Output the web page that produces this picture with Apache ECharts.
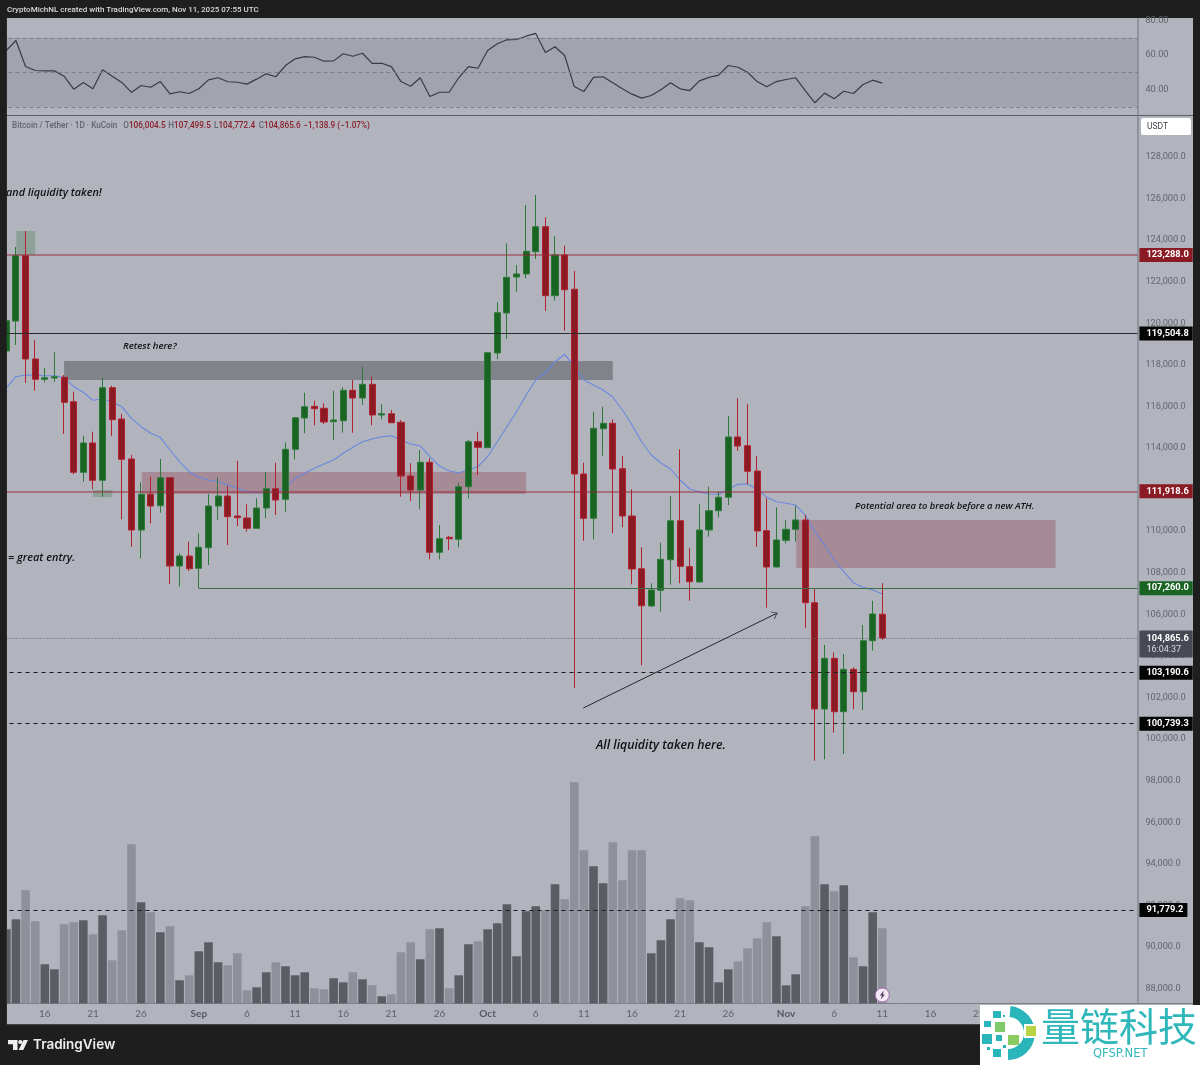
<!DOCTYPE html>
<html><head><meta charset="utf-8">
<style>html,body{margin:0;padding:0;background:#1e1e1e}#main{width:1200px;height:1065px}</style>
<script src="https://cdn.jsdelivr.net/npm/echarts@6/dist/echarts.min.js"></script>
</head><body><div id="main"></div>
<script>
const opens=[118668,120110,123252,118283,117306,117369,117403,116229,112832,114242,112448,116902,115396,113472,110057,111774,111226,112573,108325,108806,108214,109205,111211,111692,110730,110634,110139,111115,112044,111533,113939,115445,116007,115911,115267,115315,116777,116407,117066,115589,115651,115238,112655,111981,113313,108984,109705,109609,112140,114304,114016,118571,120496,122227,122372,123444,124647,121328,123286,121636,112751,110620,114930,115189,113006,110730,108195,106401,107156,108628,110504,108292,107555,110057,110985,111630,114531,114112,112895,110023,108277,109561,110090,110538,106559,101446,103885,101316,103355,102278,104732,106004.5];
const closes=[120125,123252,118283,117306,117383,117431,116200,112832,114242,112448,116902,115363,113458,110057,111774,111211,112573,108325,108806,108195,109225,111211,111692,110697,110649,110139,111115,112044,111500,113939,115454,115988,115892,115252,115348,116777,116407,117066,115589,115651,115218,112655,111981,113313,108984,109638,109638,112140,114304,114035,118586,120510,122213,122372,123464,124647,121328,123286,121616,112751,110620,114949,115189,112991,110730,108181,106415,107171,108647,110504,108310,107570,110057,110985,111630,114531,114098,112881,110009,108277,109576,110090,110538,106559,101446,103885,101316,103355,102278,104732,106016,104865.6];
const highs=[120160,123671,124440,119197,117864,118605,117513,116710,114593,114785,117383,116998,115637,113665,112351,112621,113472,112606,108936,109494,109898,111789,112592,112188,113391,111293,111582,112861,113294,114276,115493,116662,116277,116152,116758,116921,117273,117912,117431,116118,115829,115348,113265,113905,113506,110297,109768,112332,114386,114785,118620,121010,123849,122805,125691,126172,125099,124200,123733,122516,113294,115748,115988,115382,113617,112015,109225,107493,109446,111692,113939,109176,111293,112140,111899,115541,116392,116118,113617,111582,111149,110538,111226,110778,107252,104525,104173,104092,103452,105487,106656,107499.5];
const lows=[118620,118956,117128,116758,117162,117176,114675,112736,112380,112015,111659,114579,110572,109253,108695,110379,110889,107459,107329,108085,107252,108373,110538,109335,110249,109975,110125,110620,110778,110937,113458,114708,115093,115156,114386,114737,114737,116070,115093,115382,115210,111659,111452,111053,108647,108647,109095,109225,111582,112703,114001,118268,119245,121520,122165,123093,120592,121087,119644,102456,109542,109609,113631,109898,110186,107444,103548,106367,106127,107425,107493,106656,107540,109735,110668,111259,113872,112270,109253,106319,108260,109417,109494,105328,98959,99026,100306,99281,101432,101398,104251,104772.4];
const ema=[116888,117431,117513,117499,117479,117479,117403,116950,116681,116296,116359,116229,115988,115430,115026,114708,114516,113905,113342,112861,112592,112462,112380,112222,112063,111899,111851,111899,111981,112063,112544,112784,113025,113232,113424,113746,114035,114304,114434,114545,114593,114386,114194,114098,113583,113136,112895,112813,112943,113102,113583,114304,115026,115748,116551,117273,117624,118153,118509,117912,117273,117032,116792,116455,115829,115108,114304,113665,113280,112991,112462,112029,111885,111789,111774,112015,112255,112270,112029,111630,111418,111341,111259,110778,109975,109335,108614,108051,107522,107300,107171,106978];
const rsi=[62.6,68.4,53.3,51.0,50.8,50.8,47.7,40.2,44.1,40.4,51.4,47.7,44.1,38.3,42.3,41.3,44.6,37.5,38.7,37.7,40.4,45.6,46.8,44.5,44.2,43.1,46.0,49.1,47.4,53.9,57.8,59.1,58.7,56.4,56.6,60.7,59.3,61.0,55.1,55.2,53.3,44.6,41.9,46.8,35.9,38.4,38.4,46.8,53.3,52.3,62.6,66.5,68.8,69.0,70.9,72.5,61.4,64.8,59.7,41.7,38.8,47.0,47.4,43.9,40.4,37.3,35.0,36.5,39.8,43.9,40.4,39.4,45.0,47.0,48.3,53.9,52.9,50.0,44.6,41.6,44.6,45.8,46.8,39.4,32.3,37.9,34.6,39.0,37.7,42.9,45.4,43.7];
const volumes=[74,84,113,82,39,34,79,81,83,69,88,43,73,159,101,91,71,77,23,28,52,61,41,38,50,13,16,31,41,37,28,31,15,14,25,21,31,24,18,7,9,51,61,44,74,75,15,28,59,62,74,80,99,47,92,97,93,119,104,221,153,137,120,161,123,153,153,50,63,84,105,103,61,56,21,34,42,55,65,81,67,18,29,97,167,119,112,118,46,37,91,75];

const monthNames=['Jan','Feb','Mar','Apr','May','Jun','Jul','Aug','Sep','Oct','Nov','Dec'];
const categories=[];
for(let i=0;i<118;i++){const d=new Date(Date.UTC(2025,7,12+i));categories.push(d.toISOString().slice(0,10));}
const tickDays=[6,11,16,21,26];
function tickLabel(cat){const d=new Date(cat+'T00:00:00Z');const n=d.getUTCDate();
  if(n===1)return monthNames[d.getUTCMonth()];return tickDays.includes(n)?String(n):'';}

const BG='#b1b4bd',RED='#8a1a24',GREEN='#1a6423',BLACK='#050505',REDLINE='#b2222f',GREENLINE='#2f7a3b';
const levelLines=[
 {v:123288.0,color:'rgba(150,35,50,.62)',type:'solid',tag:RED,w:1.6},
 {v:119504.8,color:'#2a2b30',type:'solid',tag:BLACK,w:1},
 {v:111918.6,color:'rgba(150,35,50,.62)',type:'solid',tag:RED,w:1.6},
 {v:103190.6,color:'#1c1d21',type:[4,4],tag:BLACK,w:1},
 {v:100739.3,color:'#1c1d21',type:[4,4],tag:BLACK,w:1},
 {v:91779.2,color:'#1c1d21',type:[4,4],tag:BLACK,w:1}
];
const greenLevel=107260.0, greenStart=20, lastPrice=104865.6, countdown='16:04:37';
const zones=[
 {x0:6,x1:63,top:118187,bottom:117273,color:'rgba(100,102,108,.62)'},
 {x0:14.08,x1:54,top:112847,bottom:111789,color:'rgba(150,80,95,.42)'},
 {x0:82.07,x1:109,top:110538,bottom:108229,color:'rgba(150,80,95,.42)'},
 {x0:1.04,x1:3,top:124440,bottom:123286,color:'rgba(90,135,100,.42)'},
 {x0:9,x1:11,top:111981,bottom:111640,color:'rgba(90,135,100,.42)'}
];
const arrowLine={x0:59.94,p0:101494,x1:80.1,p1:106064};
const edge=117.5;
const ARROW='path://M-8 -8 L-7.9 -8 Z M8 8 L7.9 8 Z M-5 6 L0 0 L5 6 L4.4 6.5 L0 1.3 L-4.4 6.5 Z';

const fmt=v=>v.toLocaleString('en-US',{minimumFractionDigits:1,maximumFractionDigits:1});
const tagLabel=(v,bg)=>({show:true,position:'end',distance:2,formatter:fmt(v),backgroundColor:bg,color:'#fff',
  fontFamily:'Roboto',fontSize:9.3,fontWeight:'bold',padding:[2,4,1,7],lineHeight:11});

const markLineData=levelLines.map(l=>[
  {coord:[-0.5,l.v],lineStyle:{color:l.color,type:l.type,width:l.w}},
  {coord:[edge,l.v],label:tagLabel(l.v,l.tag)}]);
markLineData.push([{coord:[-0.5,lastPrice],lineStyle:{color:'#5c5e68',type:[1,2],width:1}},
  {coord:[edge,lastPrice],label:{show:true,position:'end',distance:2,offset:[0,6],formatter:'{a|'+fmt(lastPrice)+'}\n{b|'+countdown+'}',backgroundColor:'#474954',padding:[2,4,2,7],borderRadius:1,
   rich:{a:{color:'#fff',fontFamily:'Roboto',fontSize:9.3,fontWeight:'bold',lineHeight:12},b:{color:'#d8d9de',fontFamily:'Roboto',fontSize:9,lineHeight:11}}}}]);
markLineData.push([{coord:[greenStart,greenLevel],lineStyle:{color:'#3e6e47',type:'solid',width:1}},
  {coord:[edge,greenLevel],label:tagLabel(greenLevel,GREEN)}]);
markLineData.push([{coord:[arrowLine.x0,arrowLine.p0],symbol:'none',lineStyle:{color:'#26272c',type:'solid',width:1},label:{show:false}},
  {coord:[arrowLine.x1,arrowLine.p1],symbol:ARROW,symbolSize:14,label:{show:false}}]);

const vm={verticalAlign:'middle'};
const note=(x,y,text,size)=>({type:'text',z:20,style:{x,y,text,font:'italic 600 '+size+'px "Open Sans"',fill:'#101114',...vm}});
const legendItem=(x,l,v)=>({type:'text',z:101,style:{x:x,y:125.5,text:(l?'{l|'+l+'}':'')+'{r|'+v+'}',...vm,
  rich:{l:{fill:'#62656f',font:'500 8.2px Roboto'},r:{fill:'#8a1f2b',font:'500 8.2px Roboto'}}}});

const option={
 animation:false,
 backgroundColor:'#1e1e1e',
 textStyle:{fontFamily:'Roboto'},
 grid:[
  {left:1.5,top:20.5,width:1135.9,height:86.25},
  {left:1.5,top:115.42,width:1135.9,height:873.1},
  {left:1.5,top:115,width:1135.9,height:888.3}
 ],
 xAxis:[
  {type:'category',gridIndex:0,data:categories,show:false},
  {type:'category',gridIndex:1,data:categories,show:false},
  {type:'category',gridIndex:2,data:categories,axisTick:{show:false},axisLine:{show:false},splitLine:{show:false},
   axisLabel:{interval:(i,v)=>tickLabel(v)!=='',margin:5,formatter:v=>{const t=tickLabel(v);return /[A-Z]/.test(t)?'{m|'+t+'}':'{d|'+t+'}';},
    rich:{m:{color:'#555761',fontFamily:'Lato',fontWeight:'bold',fontSize:10},d:{color:'#5f626c',fontFamily:'Lato',fontSize:10}}}},
  {type:'value',gridIndex:1,min:-0.5,max:117.5,show:false,splitLine:{show:false}}
 ],
 yAxis:[
  {type:'value',gridIndex:0,position:'right',min:30,max:80,interval:10,splitLine:{show:false},axisLine:{show:false},axisTick:{show:false},
   axisLabel:{margin:8,color:'#62656f',fontSize:9.2,fontFamily:'Roboto',formatter:v=>(v===40||v===60||v===80)?v.toFixed(2):''}},
  {type:'value',gridIndex:1,position:'right',min:88000,max:130000,interval:2000,splitLine:{show:false},axisLine:{show:false},axisTick:{show:false},
   axisLabel:{margin:8,color:'#62656f',fontSize:9.2,fontFamily:'Roboto',formatter:v=>v===130000?'':fmt(v)}},
  {type:'value',gridIndex:2,min:0,max:888,show:false,splitLine:{show:false}}
 ],
 series:[
  {name:'RSI',type:'line',xAxisIndex:0,yAxisIndex:0,data:rsi,showSymbol:false,symbol:'none',lineStyle:{color:'#393b43',width:1.2},z:4,
   markArea:{silent:true,itemStyle:{color:'rgba(120,123,132,.27)'},data:[[{yAxis:30},{yAxis:70}]]},
   markLine:{silent:true,symbol:'none',label:{show:false},lineStyle:{color:'#7c7f88',type:[4,3],width:1},data:[{yAxis:30},{yAxis:50},{yAxis:70}]}},
  {name:'Volume',type:'bar',xAxisIndex:2,yAxisIndex:2,barWidth:8.6,z:1,
   data:volumes.map((v,i)=>({value:v,itemStyle:{color:closes[i]>=opens[i]?'#5b5d65':'#8e909a'}}))},
  {name:'Levels',type:'line',xAxisIndex:3,yAxisIndex:1,data:[],z:2,showSymbol:false,
   markArea:{silent:true,data:zones.map(z=>[{coord:[z.x0,z.top],itemStyle:{color:z.color}},{coord:[z.x1,z.bottom]}])},
   markLine:{silent:true,symbol:'none',precision:1,data:markLineData}},
  {name:'EMA',type:'line',xAxisIndex:1,yAxisIndex:1,data:ema,showSymbol:false,symbol:'none',lineStyle:{color:'#6a88e0',width:1.1},z:3},
  {name:'BTCUSDT',type:'candlestick',xAxisIndex:1,yAxisIndex:1,barWidth:6.6,z:4,
   data:opens.map((o,i)=>[o,closes[i],lows[i],highs[i]]),
   itemStyle:{color:GREEN,color0:RED,borderColor:GREENLINE,borderColor0:REDLINE,borderWidth:1,borderColorDoji:REDLINE}}
 ],
 graphic:{elements:[
  {type:'rect',z:-100,shape:{x:6.7,y:18,width:1186.3,height:1006.3},style:{fill:BG}},
  {type:'line',z:-90,shape:{x1:6.7,y1:115.5,x2:1193,y2:115.5},style:{stroke:'#5c5f69',lineWidth:1}},
  {type:'line',z:-90,shape:{x1:1138,y1:18,x2:1138,y2:1004},style:{stroke:'#6f727c',lineWidth:1}},
  {type:'line',z:-90,shape:{x1:6.7,y1:1003.5,x2:1193,y2:1003.5},style:{stroke:'#7a7d86',lineWidth:1}},
  {type:'rect',z:100,shape:{x:0,y:18,width:6.7,height:1010},style:{fill:'#1e1e1e'}},
  {type:'text',z:101,style:{x:7,y:9.5,text:'CryptoMichNL created with TradingView.com, Nov 11, 2025 07:55 UTC',font:'500 8px Roboto',fill:'#d9dadd',...vm}},
  {type:'text',z:101,style:{x:12,y:125.5,text:'Bitcoin / Tether · 1D · KuCoin',font:'500 8.2px Roboto',fill:'#62656f',...vm}},
  legendItem(123.3,'O','106,004.5'),legendItem(168.3,'H','107,499.5'),legendItem(214,'L','104,772.4'),legendItem(258.7,'C','104,865.6'),legendItem(303.3,'','−1,138.9 (−1.07%)'),
  {type:'rect',z:101,shape:{x:1141,y:118,width:50,height:17,r:2},style:{fill:'#ffffff'}},
  {type:'text',z:102,style:{x:1147,y:127,text:'USDT',font:'8.5px Roboto',fill:'#43454d',...vm}},
  note(6,192.5,'and liquidity taken!',10.8),
  note(8,558,'= great entry.',10.9),
  note(123,346,'Retest here?',9.6),
  note(596,745.5,'All liquidity taken here.',12.3),
  note(855,506,'Potential area to break before a new ATH.',9.4),
  {type:'polygon',z:101,shape:{points:[[8,1040],[17.5,1040],[17.5,1050],[13,1050],[13,1044.3],[8,1044.3]]},style:{fill:'#eeeeee'}},
  {type:'circle',z:101,shape:{cx:20.3,cy:1042,r:2.1},style:{fill:'#eeeeee'}},
  {type:'polygon',z:101,shape:{points:[[23.5,1040],[28,1040],[23.3,1050],[18.6,1050]]},style:{fill:'#eeeeee'}},
  {type:'text',z:101,style:{x:33,y:1045,text:'TradingView',font:'600 13.5px Inter',fill:'#eeeeee',...vm}},
  {type:'circle',z:30,shape:{cx:882.3,cy:995,r:7},style:{fill:'#f4eaf5',stroke:'#a06bb0',lineWidth:1}},
  {type:'polygon',z:31,shape:{points:[[884,990.5],[879.8,995.6],[882,995.6],[880.8,999.5],[885,994.4],[882.8,994.4]]},style:{fill:'#5a3a63'}},
  {type:'rect',z:110,shape:{x:980,y:1005,width:220,height:60},style:{fill:'#ffffff'}},
  {type:'sector',z:111,shape:{cx:1008,cy:1033,r:27,r0:16,startAngle:-Math.PI*0.47,endAngle:Math.PI*0.5},style:{fill:'#2ab5ba'}},
  {type:'rect',z:112,shape:{x:1024,y:1024,width:14,height:14},style:{fill:'#ffffff'}},
  {type:'rect',z:113,shape:{x:1026,y:1026,width:10,height:10},style:{fill:'#b9d443'}},
  {type:'rect',z:112,shape:{x:993,y:1011,width:8,height:7},style:{fill:'#2ab5ba'}},
  {type:'rect',z:112,shape:{x:984,y:1021,width:7,height:6},style:{fill:'#2ab5ba'}},
  {type:'rect',z:112,shape:{x:995,y:1022,width:10,height:10},style:{fill:'#7fc96a'}},
  {type:'rect',z:112,shape:{x:982,y:1034,width:10,height:10},style:{fill:'#2ab5ba'}},
  {type:'rect',z:112,shape:{x:996,y:1035,width:6,height:6},style:{fill:'#2ab5ba'}},
  {type:'rect',z:112,shape:{x:1008,y:1035,width:11,height:10},style:{fill:'#8ccb5f'}},
  {type:'rect',z:112,shape:{x:993,y:1049,width:8,height:8},style:{fill:'#2ab5ba'}},
  {type:'rect',z:112,shape:{x:987,y:1047,width:3,height:3},style:{fill:'#2ab5ba'}},
  {type:'rect',z:112,shape:{x:1003,y:1045,width:3,height:3},style:{fill:'#2ab5ba'}},
  {type:'rect',z:112,shape:{x:1003,y:1015,width:2,height:2},style:{fill:'#2ab5ba'}},
  {type:'text',z:112,style:{x:1041,y:1026,text:'量链科技',font:'39px "Noto Sans CJK SC"',fill:'#2fb7b9',...vm}},
  {type:'text',z:112,style:{x:1093,y:1054.5,text:'QFSP.NET',font:'11.5px "DejaVu Sans"',fill:'#2fb7b9',...vm}}
 ]}
};
const chart=echarts.init(document.getElementById('main'),null,{renderer:'canvas'});
chart.setOption(option);
</script></body></html>
